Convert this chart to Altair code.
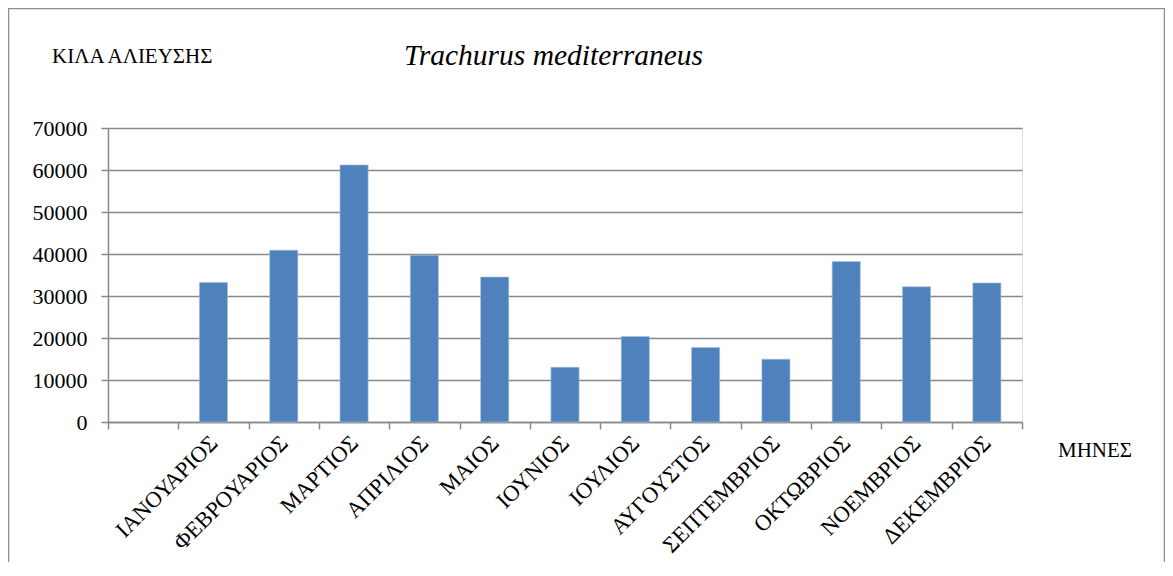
import altair as alt
import pandas as pd

months = ["", "ΙΑΝΟΥΑΡΙΟΣ", "ΦΕΒΡΟΥΑΡΙΟΣ", "ΜΑΡΤΙΟΣ", "ΑΠΡΙΛΙΟΣ", "ΜΑΙΟΣ", "ΙΟΥΝΙΟΣ",
          "ΙΟΥΛΙΟΣ", "ΑΥΓΟΥΣΤΟΣ", "ΣΕΠΤΕΜΒΡΙΟΣ", "ΟΚΤΩΒΡΙΟΣ", "ΝΟΕΜΒΡΙΟΣ", "ΔΕΚΕΜΒΡΙΟΣ"]
catch_kg = [None, 33200, 40900, 61200, 39700, 34500, 13050,
            20350, 17750, 14950, 38200, 32200, 33100]
y_ticks = [0, 10000, 20000, 30000, 40000, 50000, 60000, 70000]

title_text = "Trachurus mediterraneus"
y_title = "ΚΙΛΑ ΑΛΙΕΥΣΗΣ"
x_title = "ΜΗΝΕΣ"

FONT = "Liberation Serif"
GRID = "#898989"
BAR = "#4F81BD"

df = pd.DataFrame({"month": months, "kg": catch_kg})
one = pd.DataFrame({"a": [0]})

border = alt.Chart(one).mark_rect(fillOpacity=0, stroke="#8E8E8E", strokeWidth=1.5).encode(
    x=alt.value(-99.5), x2=alt.value(1056.5), y=alt.value(-119.5), y2=alt.value(439.5)
)

bars = alt.Chart(df).mark_bar(color=BAR, stroke="#A9C0DE", strokeWidth=0.6,
                              width=alt.RelativeBandSize(0.4)).encode(
    x=alt.X(
        "month:N",
        sort=months,
        scale=alt.Scale(domain=months, paddingInner=0, paddingOuter=0),
        axis=alt.Axis(
            title=None, labelAngle=-45, labelAlign="right", labelBaseline="middle",
            labelFont=FONT, labelFontSize=22.5, labelColor="black", labelPadding=10,
            labelOverlap=False, labelLimit=400, tickBand="extent", tickSize=7,
            tickColor=GRID, tickWidth=1.5, domainColor=GRID, domainWidth=1.5,
        ),
    ),
    y=alt.Y(
        "kg:Q",
        scale=alt.Scale(domain=[0, 70000], nice=False),
        axis=alt.Axis(
            title=None, values=y_ticks, format="d", grid=True, gridColor=GRID,
            gridWidth=1.5, labelFont=FONT, labelFontSize=22, labelColor="black",
            labelPadding=14, tickSize=7, tickColor=GRID, tickWidth=1.5,
            domainColor=GRID, domainWidth=1.5,
        ),
    ),
)

t_y = alt.Chart(one).mark_text(text=y_title, font=FONT, fontSize=21, align="left",
                               baseline="alphabetic", color="black").encode(
    x=alt.value(-56), y=alt.value(-65)
)
t_title = alt.Chart(one).mark_text(text=title_text, font=FONT, fontSize=29.5, fontStyle="italic",
                                   align="center", baseline="alphabetic", color="black").encode(
    x=alt.value(445.5), y=alt.value(-63)
)
t_x = alt.Chart(one).mark_text(text=x_title, font=FONT, fontSize=21, align="left",
                               baseline="alphabetic", color="black").encode(
    x=alt.value(950), y=alt.value(329)
)

chart = alt.layer(border, bars, t_y, t_title, t_x).properties(
    width=914, height=294,
    padding={"left": 100, "top": 120, "right": 143, "bottom": 140},
    autosize=alt.AutoSizeParams(type="none"),
).configure_view(stroke=None).configure(background="white")

chart.save("out.html", embed_options={"renderer": "svg", "actions": False})
